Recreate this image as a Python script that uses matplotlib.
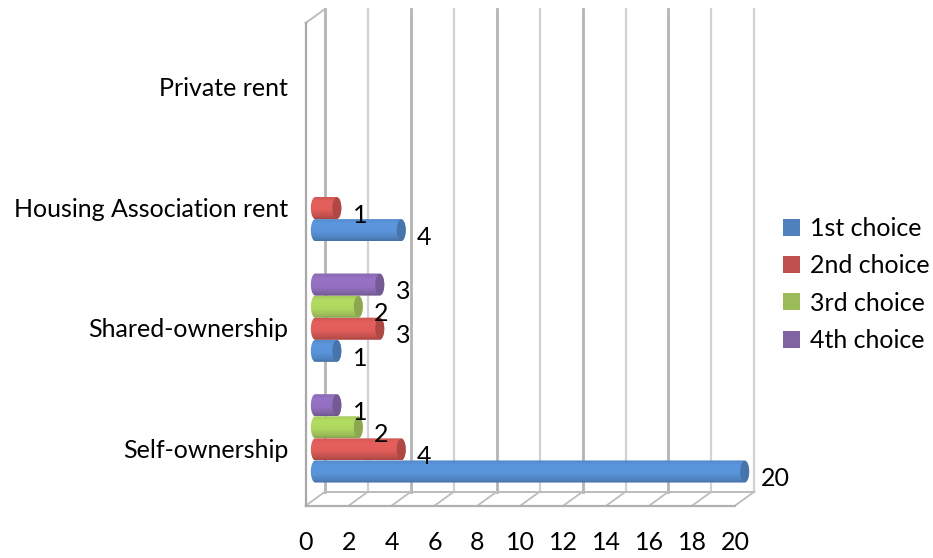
import matplotlib
matplotlib.use("Agg")
import matplotlib.pyplot as plt
import numpy as np
from matplotlib.colors import to_rgb
from matplotlib.patches import Ellipse, PathPatch, Patch
from matplotlib.path import Path
from matplotlib.transforms import ScaledTranslation

plt.rcParams['font.family'] = ['Lato', 'DejaVu Sans']

categories = ['Self-ownership', 'Shared-ownership', 'Housing Association rent', 'Private rent']
series_names = ['1st choice', '2nd choice', '3rd choice', '4th choice']
first_choice = [20, 1, 4, 0]
second_choice = [4, 3, 1, 0]
third_choice = [2, 2, 0, 0]
fourth_choice = [1, 3, 0, 0]
x_ticks = list(range(0, 21, 2))

series = [first_choice, second_choice, third_choice, fourth_choice]
base_colors = ['#4F81BD', '#C0504D', '#9BBB59', '#8064A2']
light_colors = ['#5B97DE', '#E5605C', '#B3DC62', '#9872C6']

W, H = 933, 558
DEPTH_X = 0.9     # floor depth in value units
DEPTH_Y = 0.116   # floor depth in category units
BAR_H = 0.183
CAP_W = 0.42
FS = 18

fig = plt.figure(figsize=(W / 100, H / 100), dpi=100)
ax = fig.add_axes([305.7 / W, 1 - 505.7 / H, 429.3 / W, 482.7 / H])
ax.set_xlim(0, 20)
ax.set_ylim(0, 4)
for s in ax.spines.values():
    s.set_visible(False)


def bar_path(x0, x1, y0, y1):
    # body with rounded ends, the ends are half ellipses
    t = np.linspace(-np.pi / 2, np.pi / 2, 40)
    yc, ry = (y0 + y1) / 2, (y1 - y0) / 2
    right = np.column_stack([x1 + CAP_W / 2 * np.cos(t), yc + ry * np.sin(t)])
    left = np.column_stack([x0 - CAP_W / 2 * np.cos(t[::-1]), yc + ry * np.sin(t[::-1])])
    return Path(np.vstack([right, left, right[:1]]), closed=True)


def cylinder(value, y0, base, light):
    x0 = DEPTH_X / 2
    x1 = x0 + value
    y1 = y0 + BAR_H
    b, l = np.array(to_rgb(base)), np.array(to_rgb(light))
    # top to bottom shading
    stops = np.array([0, 0.22, 0.6, 0.88, 1.0])
    mix = [b * 1.05, l, l * 0.98, b * 1.0, b * 0.88]
    pos = np.linspace(0, 1, 40)
    grad = np.stack([np.interp(pos, stops, [m[i] for m in mix]) for i in range(3)], axis=1)
    im = ax.imshow(grad[:, None, :].clip(0, 1), extent=(x0 - CAP_W, x1 + CAP_W, y0, y1),
                   aspect='auto', zorder=3, origin='upper')
    clip = PathPatch(bar_path(x0, x1, y0, y1), transform=ax.transData, fc='none', ec='none', clip_on=False)
    ax.add_patch(clip)
    im.set_clip_path(clip)
    im.set_clip_box(fig.bbox)  # the 20 bar runs past the axes box because of the depth
    ax.add_patch(Ellipse((x1, (y0 + y1) / 2), CAP_W, BAR_H * 0.96, fc=b * 0.9, ec='none',
                         zorder=4, clip_on=False))


# walls and floor
for v in x_ticks:
    heavy = v % 4 == 0 and v != 20
    col = '#b4b4b4' if heavy else '#d2d2d2'
    lw = 2.0 if heavy else 1.6
    ax.plot([v + DEPTH_X, v + DEPTH_X], [DEPTH_Y, 4 + DEPTH_Y], color=col, lw=lw, clip_on=False, zorder=1)
    ax.plot([v, v + DEPTH_X], [0, DEPTH_Y], color='#bcbcbc', lw=1.3, clip_on=False, zorder=1)
ax.plot([DEPTH_X, 20 + DEPTH_X], [DEPTH_Y, DEPTH_Y], color='#bcbcbc', lw=1.4, clip_on=False, zorder=1)
ax.plot([0, 20], [0, 0], color='#b0b0b0', lw=1.6, clip_on=False, zorder=2)
ax.plot([0, 0], [0, 4], color='#a8a8a8', lw=1.6, clip_on=False, zorder=2)
ax.plot([0, DEPTH_X], [4, 4 + DEPTH_Y], color='#bcbcbc', lw=1.4, clip_on=False, zorder=1)

# bars and their value labels
for i, (vals, base, light) in enumerate(zip(series, base_colors, light_colors)):
    for c, v in enumerate(vals):
        if v == 0:
            continue
        y0 = c + 0.5 + DEPTH_Y / 2 + (i - 2) * BAR_H
        cylinder(v, y0, base, light)
        ax.annotate(str(v), (DEPTH_X / 2 + v, y0 + BAR_H / 2), xytext=(11.5, -5.2),
                    textcoords='offset points', ha='left', va='center',
                    fontsize=FS, color='black', zorder=6, annotation_clip=False)

ax.set_xlim(0, 20)
ax.set_ylim(0, 4)

ax.set_xticks(x_ticks)
ax.set_xticklabels([str(v) for v in x_ticks], fontsize=FS)
ax.set_yticks(np.arange(len(categories)) + 0.5)
ax.set_yticklabels(categories, fontsize=FS)
ax.tick_params(axis='both', length=0)
ax.tick_params(axis='x', pad=18)
ax.tick_params(axis='y', pad=12.5)
shift = ScaledTranslation(0, -3 / 100, fig.dpi_scale_trans)
for lab in ax.get_yticklabels():
    lab.set_transform(lab.get_transform() + shift)

handles = [Patch(fc=c, ec='none', label=n) for c, n in zip(base_colors, series_names)]
fig.legend(handles=handles, loc='center left', bbox_to_anchor=(783 / W, 1 - 284.5 / H),
           frameon=False, fontsize=FS, handlelength=0.68, handleheight=0.68,
           handletextpad=0.4, labelspacing=0.57, borderpad=0, borderaxespad=0)

fig.savefig('out.png', dpi=100)
